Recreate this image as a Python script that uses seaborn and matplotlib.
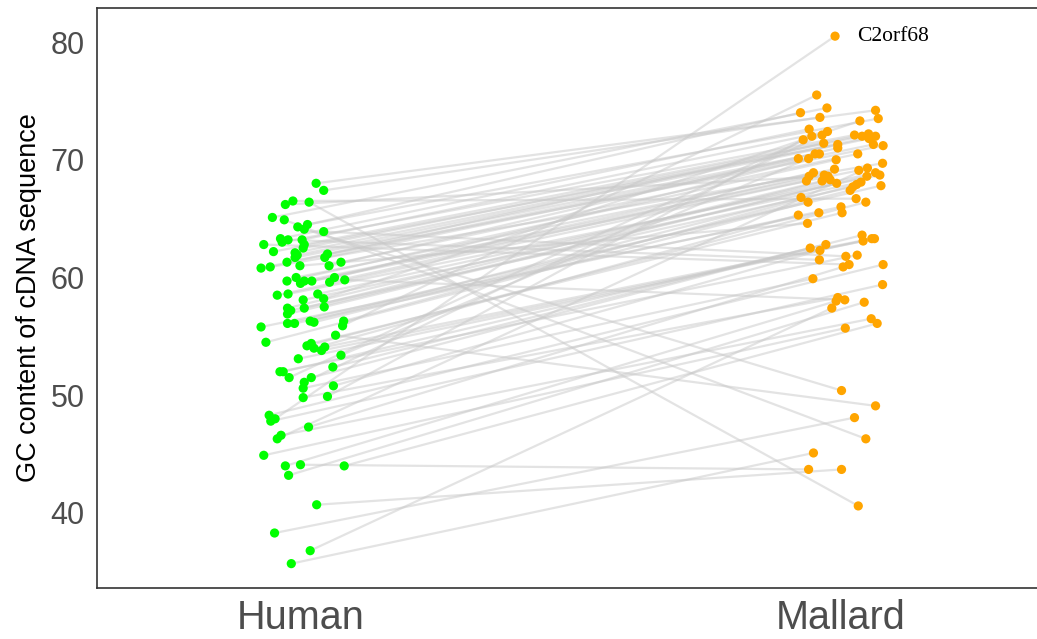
import numpy as np
import pandas as pd
import matplotlib
matplotlib.use("Agg")
import matplotlib.pyplot as plt
import seaborn as sns

# === Data (pairs: human gene i <-> mallard gene i) ===
human_gc = [
    68.0, 48.0, 40.7, 38.3, 36.8, 35.7, 44.1, 66.4, 64.9, 64.1, 55.1,
    67.4, 66.5, 66.2, 65.1, 64.5, 64.3, 63.9, 63.3, 63.2, 63.2,
    63.0, 62.8, 62.8, 62.5, 62.2, 62.1, 62.0, 61.9, 61.7, 61.7,
    61.3, 61.3, 61.0, 61.0, 60.9, 60.8, 60.0, 60.0, 59.8, 59.7,
    59.7, 59.7, 59.6, 59.5, 58.6, 58.6, 58.5, 58.2, 58.1, 57.5,
    57.4, 57.4, 57.2, 56.9, 56.3, 56.3, 56.2, 56.1, 56.1, 55.9,
    55.8, 54.5, 54.4, 54.2, 54.1, 54.0, 53.8, 53.4, 53.1, 52.4,
    52.0, 52.0, 51.5, 51.5, 51.1, 50.8, 50.6, 49.9, 49.8, 48.3,
    47.8, 47.3, 46.6, 46.3, 44.9, 44.0, 44.0, 43.2,
]
human_jit = [
    0.028, -0.048, 0.029, -0.049, 0.017, -0.018, -0.001, 0.015, -0.031, 0.006, 0.064,
    0.042, -0.015, -0.029, -0.053, 0.012, -0.006, 0.042, -0.038, -0.024, 0.002,
    -0.035, 0.006, -0.069, 0.004, -0.051, -0.011, 0.049, -0.007, -0.011, 0.044,
    0.074, -0.026, -0.002, 0.052, -0.057, -0.074, -0.009, 0.062, 0.081, -0.026,
    0.006, 0.020, 0.053, -0.001, -0.024, 0.031, -0.044, 0.042, 0.004, 0.043,
    -0.025, 0.006, -0.019, -0.025, 0.017, 0.079, 0.024, -0.025, -0.012, 0.077,
    -0.074, -0.065, 0.019, 0.011, 0.044, 0.024, 0.038, 0.074, -0.005, 0.059,
    -0.039, -0.033, -0.022, 0.019, 0.006, 0.060, 0.004, 0.049, 0.004, -0.059,
    -0.056, 0.014, -0.037, -0.044, -0.069, -0.029, 0.080, -0.023,
]
mallard_gc = [
    74.2, 80.5, 43.7, 48.1, 57.4, 45.1, 43.7, 40.6, 46.3, 50.4, 49.1,
    73.6, 66.7, 68.6, 74.4, 73.5, 74.0, 61.8, 72.6, 61.5, 72.4,
    72.1, 72.2, 61.1, 72.0, 71.3, 72.0, 71.4, 71.8, 70.5, 71.3,
    70.5, 71.2, 64.6, 71.0, 69.7, 70.1, 69.2, 70.1, 58.1, 70.0,
    68.7, 69.1, 68.6, 68.9, 68.7, 68.9, 68.2, 73.3, 68.1, 68.6,
    68.2, 68.3, 67.7, 68.0, 66.8, 67.9, 67.4, 67.8, 66.0, 75.5,
    65.5, 66.4, 65.5, 66.4, 63.3, 65.3, 63.1, 70.5, 63.3, 63.6,
    61.9, 62.8, 72.0, 62.5, 72.1, 62.3, 59.9, 71.7, 58.3, 61.1,
    59.4, 60.9, 56.5, 69.3, 55.7, 58.0, 56.1, 57.9,
]
mallard_jit = [
    0.064, -0.011, 0.001, 0.025, -0.017, -0.051, -0.060, 0.032, 0.046, 0.001, 0.064,
    -0.039, 0.028, -0.024, -0.026, 0.069, -0.075, 0.009, -0.059, -0.040, -0.025,
    0.025, 0.051, 0.015, 0.039, -0.006, 0.064, -0.032, 0.052, -0.048, 0.060,
    0.031, 0.078, -0.062, -0.006, 0.077, -0.079, -0.012, -0.060, 0.007, -0.009,
    -0.031, 0.033, -0.059, -0.051, 0.072, 0.064, -0.064, 0.035, 0.037, 0.048,
    -0.035, -0.020, 0.022, -0.008, -0.074, 0.029, 0.017, 0.074, 0.000, -0.045,
    -0.041, -0.061, 0.002, 0.046, 0.057, -0.079, 0.041, -0.040, 0.062, 0.039,
    0.030, -0.028, -0.054, -0.057, -0.035, -0.039, -0.052, -0.070, -0.006, 0.078,
    0.077, 0.004, 0.056, 0.049, 0.008, -0.009, 0.067, 0.043,
]
species = ["Human", "Mallard"]
label_gene = "C2orf68"
label_idx = 1

# === Long table ===
n = len(human_gc)
df = pd.DataFrame({
    "gene": list(range(n)) * 2,
    "species": ["Human"] * n + ["Mallard"] * n,
    "gc": human_gc + mallard_gc,
    "jit": human_jit + mallard_jit,
})
df["x"] = df["species"].map({s: i for i, s in enumerate(species)}) + df["jit"]

sns.set_style("white")
plt.rcParams["font.family"] = ["Liberation Sans", "DejaVu Sans"]
fig = plt.figure(figsize=(10.37, 6.39), dpi=100)
ax = fig.add_axes([97 / 1037, 51 / 639, 950 / 1037, 580 / 639])

sns.lineplot(data=df, x="x", y="gc", units="gene", estimator=None, sort=False,
             color="#c8c8c8", alpha=0.5, linewidth=1.6, ax=ax, legend=False)
sns.scatterplot(data=df, x="x", y="gc", hue="species",
                palette={"Human": "#00ff00", "Mallard": "#ffa500"},
                s=44, linewidth=0, ax=ax, legend=False, zorder=3)

lab = df[(df["species"] == "Mallard") & (df["gene"] == label_idx)].iloc[0]
ax.text(lab["x"] + 0.04, lab["gc"], label_gene, family="Liberation Serif",
        fontsize=15.5, va="center", ha="left", color="black")

ax.set_xlim(-0.3778, 1.3815)
ax.set_ylim(33.63, 82.89)
ax.set_xticks(range(len(species)))
ax.set_xticklabels(species)
ax.set_yticks([40, 50, 60, 70, 80])
ax.set_xlabel("")
ax.set_ylabel("GC content of cDNA sequence", fontsize=19.5, color="black", labelpad=6)
ax.tick_params(axis="x", labelsize=28.5, colors="#4d4d4d", length=5, width=1.2, pad=3)
ax.tick_params(axis="y", labelsize=22, colors="#4d4d4d", length=5, width=1.2, pad=4)
ax.tick_params(axis="both", direction="out", color="#333333")
for sp in ["left", "bottom", "top"]:
    ax.spines[sp].set_color("#333333")
    ax.spines[sp].set_linewidth(1.2)
ax.spines["right"].set_visible(False)
ax.grid(False)

fig.savefig("out.png", dpi=100)
